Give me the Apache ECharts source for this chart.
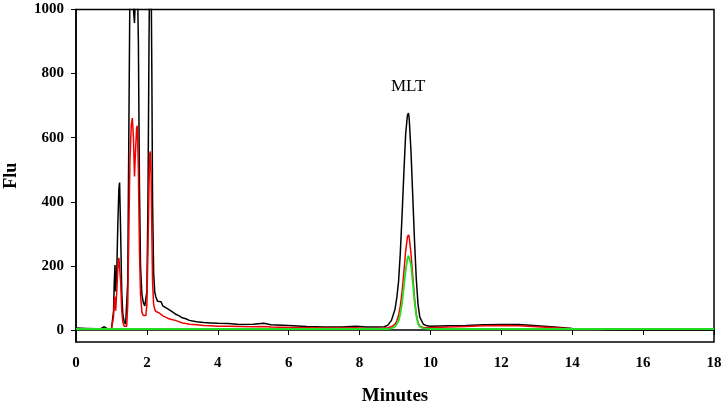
<!DOCTYPE html>
<html>
<head>
<meta charset="utf-8">
<script src="https://cdn.jsdelivr.net/npm/echarts@6/dist/echarts.min.js"></script>
<style>
html,body{margin:0;padding:0;background:#fff;}
#chart{width:726px;height:406px;}
</style>
</head>
<body>
<div id="chart"></div>
<script>
// Retention time (minutes)
const times = [0,0.3,0.6,0.7,0.75,0.8,0.85,0.9,1.0,1.04,1.06,1.08,1.1,1.12,1.15,1.18,1.21,1.23,1.26,1.29,1.32,1.36,1.4,1.43,1.46,1.49,1.52,1.56,1.59,1.62,1.65,1.68,1.71,1.73,1.76,1.79,1.82,1.86,1.9,1.94,1.97,2.0,2.03,2.06,2.08,2.1,2.12,2.14,2.16,2.19,2.22,2.25,2.3,2.35,2.4,2.45,2.5,2.6,2.7,2.8,2.9,3.0,3.1,3.2,3.4,3.6,3.8,4.0,4.3,4.6,5.0,5.3,5.5,6.0,6.5,7.0,7.5,7.9,8.2,8.5,8.7,8.8,8.9,9.0,9.05,9.1,9.15,9.2,9.25,9.3,9.35,9.38,9.4,9.45,9.5,9.55,9.6,9.65,9.7,9.8,9.9,10.0,10.5,11.0,11.5,12.0,12.5,13.0,13.5,14.0,14.5,15.0,16.0,17.0,18.0];
// Fluorescence, black trace
const blackFlu = [6,5,4,4,7,10,5,3,3,4,60,150,203,120,180,330,440,460,300,120,50,25,18,20,150,600,1050,1150,1100,1000,958,1050,1150,1100,900,450,200,110,85,75,72,120,400,900,1150,1200,1100,800,400,180,120,104,90,85,88,75,72,65,58,50,45,38,35,30,26,23,22,21,20,17,18,21,16,14,11,9,9,12,9,9,10,15,30,65,100,150,240,360,490,610,670,677,660,560,420,280,160,80,40,18,13,12,13,14,16,17,17,13,9,5,3,1,0,0,0];
// Fluorescence, red trace
const redFlu = [3,3,3,3,3,3,3,3,3,4,40,90,104,60,120,190,225,231,150,60,25,12,10,12,80,300,520,640,661,600,479,560,630,637,500,250,110,55,45,42,45,80,250,450,550,557,480,300,150,80,65,58,52,53,50,44,40,36,33,30,26,22,20,18,16,14,13,12,12,11,10,11,9,8,7,6,6,7,5,5,6,7,10,18,28,45,75,120,180,245,290,297,290,240,170,100,50,22,12,8,7,7,9,11,13,14,13,10,7,4,3,2,2,2,2];
// Fluorescence, green trace
const greenFlu = [3,3,3,3,3,3,3,3,3,3,3,3,3,3,3,3,3,3,3,3,3,3,3,3,3,3,3,3,3,3,3,3,3,3,3,3,3,3,3,3,3,3,3,3,3,3,3,3,3,3,3,3,3,3,3,3,3,3,3,3,3,3,3,3,3,3,3,3,3,3,3,3,3,3,3,3,3,3,3,3,3,3,5,10,16,28,50,85,135,185,222,232,234,205,150,90,45,20,10,5,4,3,3,3,3,3,3,3,3,3,3,3,3,3,3];
const yTicks = [0,200,400,600,800,1000];
const xTicks = [0,2,4,6,8,10,12,14,16,18];
const peakLabel = {name:'MLT', t:9.37, flu:760};

const pairs = v => times.map((t,i)=>[t, v[i]]);
const font = 'Liberation Serif, Times New Roman, serif';
const chart = echarts.init(document.getElementById('chart'));
chart.setOption({
  animation:false,
  backgroundColor:'#fff',
  grid:{left:76,right:12,top:9.5,bottom:64,containLabel:false,outerBoundsMode:'none',show:true,borderColor:'#000',borderWidth:1.5,backgroundColor:'transparent'},
  xAxis:{
    type:'value',min:xTicks[0],max:xTicks[xTicks.length-1],interval:2,
    name:'Minutes',nameLocation:'middle',nameGap:45,
    nameTextStyle:{fontFamily:font,fontWeight:'bold',fontSize:19,color:'#000'},
    axisLine:{show:true,lineStyle:{color:'#000',width:1.5}},
    axisTick:{show:true,inside:false,length:5,lineStyle:{color:'#000',width:1}},
    axisLabel:{fontFamily:font,fontWeight:'bold',fontSize:15,color:'#000',margin:14},
    splitLine:{show:false}
  },
  yAxis:{
    type:'value',min:-37.5,max:1000,
    name:'Flu',nameLocation:'middle',nameGap:56,nameRotate:90,
    nameTextStyle:{fontFamily:font,fontWeight:'bold',fontSize:18,color:'#000'},
    axisLine:{show:true,onZero:false,lineStyle:{color:'#000',width:1.5}},
    axisTick:{show:true,length:5,customValues:yTicks,lineStyle:{color:'#000',width:1}},
    axisLabel:{fontFamily:font,fontWeight:'bold',fontSize:15,color:'#000',margin:12,customValues:yTicks,formatter:v=>String(v)},
    splitLine:{show:false}
  },
  series:[
    {type:'line',data:pairs(blackFlu),showSymbol:false,symbol:'none',lineStyle:{color:'#000',width:1.5},clip:true,
     markPoint:{symbol:'circle',symbolSize:0,silent:true,
       data:[{coord:[peakLabel.t,peakLabel.flu],name:peakLabel.name}],
       label:{show:true,formatter:peakLabel.name,position:'inside',fontFamily:font,fontSize:17,color:'#000'}}},
    {type:'line',data:pairs(redFlu),showSymbol:false,symbol:'none',lineStyle:{color:'#ee0000',width:1.5},clip:true},
    {type:'line',data:pairs(greenFlu),showSymbol:false,symbol:'none',lineStyle:{color:'#22dd22',width:1.8},clip:true}
  ]
});
</script>
</body>
</html>
